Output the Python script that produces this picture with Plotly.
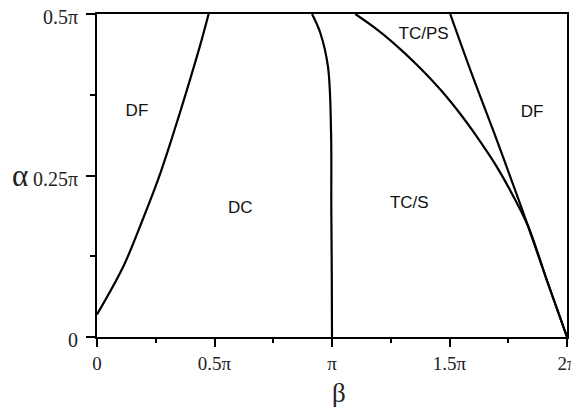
import numpy as np
import plotly.graph_objects as go

PI = np.pi

# Phase boundaries: beta/pi and alpha/pi
c1_beta = [0.0, 0.113, 0.198, 0.269, 0.319, 0.383, 0.44, 0.475]
c1_alpha = [0.035, 0.110, 0.185, 0.253, 0.308, 0.383, 0.453, 0.5]

c2_beta = [0.915, 0.95, 0.983, 0.996, 0.997, 0.999, 1.0]
c2_alpha = [0.5, 0.471, 0.418, 0.316, 0.2, 0.1, 0.0]

c3_beta = [1.099, 1.177, 1.262, 1.362, 1.461, 1.555, 1.603, 1.702, 1.78, 1.835, 1.918, 2.0]
c3_alpha = [0.5, 0.480, 0.455, 0.421, 0.383, 0.341, 0.317, 0.263, 0.212, 0.171, 0.084, 0.0]

c4_beta = [1.503, 1.594, 1.690, 1.794, 1.835, 1.918, 2.0]
c4_alpha = [0.5, 0.408, 0.316, 0.2125, 0.171, 0.084, 0.0]

region_labels = ["DF", "DC", "TC/S", "TC/PS", "DF"]
region_beta = [0.170, 0.61, 1.329, 1.39, 1.851]
region_alpha = [0.349, 0.199, 0.206, 0.4675, 0.3465]

x_tickvals = [0, 0.5, 1.0, 1.5, 2.0]
x_ticktext = ["0", "0.5π", "π", "1.5π", "2π"]
x_minor = [0.25, 0.75, 1.25, 1.75]
y_tickvals = [0, 0.25, 0.5]
y_ticktext = ["0", "0.25π", "0.5π"]
y_minor = [0.125, 0.375]

serif = "Liberation Serif, Times New Roman, serif"
sans = "Liberation Sans, Arial, sans-serif"

fig = go.Figure()
for bx, ay in [(c1_beta, c1_alpha), (c2_beta, c2_alpha), (c3_beta, c3_alpha), (c4_beta, c4_alpha)]:
    fig.add_trace(go.Scatter(
        x=[b * PI for b in bx], y=[a * PI for a in ay], mode="lines",
        line=dict(color="black", width=2.2, shape="spline", smoothing=1.0),
        showlegend=False, hoverinfo="skip"))

fig.add_trace(go.Scatter(
    x=[b * PI for b in region_beta], y=[a * PI for a in region_alpha],
    mode="text", text=region_labels,
    textfont=dict(family=sans, size=17, color="#111"),
    showlegend=False, hoverinfo="skip"))

# The page body has an 8px margin, so the figure is 8px smaller and offset.
fig.update_layout(
    width=571, height=399,
    margin=dict(l=89, r=12, t=6, b=70),
    plot_bgcolor="white", paper_bgcolor="white",
    xaxis=dict(
        range=[0, 2 * PI], tickvals=[v * PI for v in x_tickvals], ticktext=x_ticktext,
        ticks="outside", ticklen=8, tickwidth=2, tickcolor="black",
        minor=dict(tickvals=[v * PI for v in x_minor], ticks="outside", ticklen=4,
                   tickwidth=2, tickcolor="black"),
        showline=True, linecolor="black", linewidth=2, mirror=True,
        showgrid=False, zeroline=False, automargin=False,
        ticklabeloverflow="allow",
        tickfont=dict(family=serif, size=19, color="#222"),
    ),
    yaxis=dict(
        range=[0, 0.5 * PI], tickvals=[v * PI for v in y_tickvals], ticktext=y_ticktext,
        ticks="outside", ticklen=9, tickwidth=2, tickcolor="black",
        minor=dict(tickvals=[v * PI for v in y_minor], ticks="outside", ticklen=5,
                   tickwidth=2, tickcolor="black"),
        showline=True, linecolor="black", linewidth=2, mirror=True,
        showgrid=False, zeroline=False, automargin=False,
        ticklabeloverflow="allow",
        tickfont=dict(family=serif, size=20, color="#222"),
        ticklabelstandoff=4,
        ticklabelshift=3,
    ),
    annotations=[
        dict(text="α", xref="paper", yref="paper", x=-0.164, y=0.5,
             xanchor="center", yanchor="middle", showarrow=False,
             font=dict(family=serif, size=31, color="#222")),
        dict(text="β", xref="paper", yref="paper", x=0.514, y=-0.172,
             xanchor="center", yanchor="middle", showarrow=False,
             font=dict(family=serif, size=27, color="#222")),
    ],
)

fig.write_html("out.html")
